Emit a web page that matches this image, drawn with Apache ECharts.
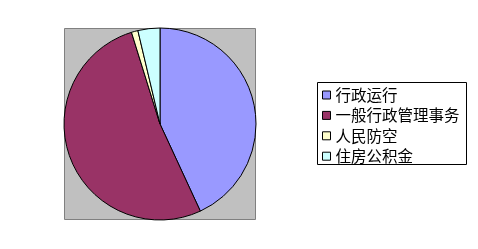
<!DOCTYPE html>
<html><head><meta charset="utf-8">
<script src="https://cdn.jsdelivr.net/npm/echarts@6/dist/echarts.min.js"></script>
<style>html,body{margin:0;padding:0;background:#fff}#c{width:478px;height:249px}</style>
</head><body><div id="c"></div>
<script>
const categories = ['行政运行', '一般行政管理事务', '人民防空', '住房公积金'];
const values = [43.1, 52.1, 1.1, 3.7];
const colors = ['#9999FF', '#993366', '#FFFFCC', '#CCFFFF'];

const chart = echarts.init(document.getElementById('c'), null, {renderer: 'canvas'});
chart.setOption({
  animation: false,
  backgroundColor: '#ffffff',
  graphic: [{
    type: 'rect', z: -10, silent: true,
    shape: {x: 64.5, y: 28.5, width: 191, height: 191},
    style: {fill: '#C0C0C0', stroke: '#808080', lineWidth: 1}
  }, {
    type: 'rect', z: -10, silent: true,
    shape: {x: 317.5, y: 82.5, width: 149, height: 82},
    style: {fill: '#fff', stroke: '#000', lineWidth: 1}
  }],
  legend: {
    orient: 'vertical',
    left: 322, top: 86,
    padding: 0,
    itemGap: 2.4,
    itemWidth: 8, itemHeight: 8,
    icon: 'rect',
    selectedMode: false,
    itemStyle: {borderColor: '#000', borderWidth: 1},
    textStyle: {fontFamily: 'Noto Sans CJK SC', fontSize: 15.5, lineHeight: 18, color: '#000'},
    data: categories
  },
  series: [{
    type: 'pie',
    center: [160, 124],
    radius: 96,
    startAngle: 90,
    clockwise: true,
    label: {show: false},
    labelLine: {show: false},
    emphasis: {disabled: true},
    itemStyle: {borderColor: '#000', borderWidth: 1},
    data: categories.map((n, i) => ({name: n, value: values[i], itemStyle: {color: colors[i]}}))
  }]
});
</script></body></html>
